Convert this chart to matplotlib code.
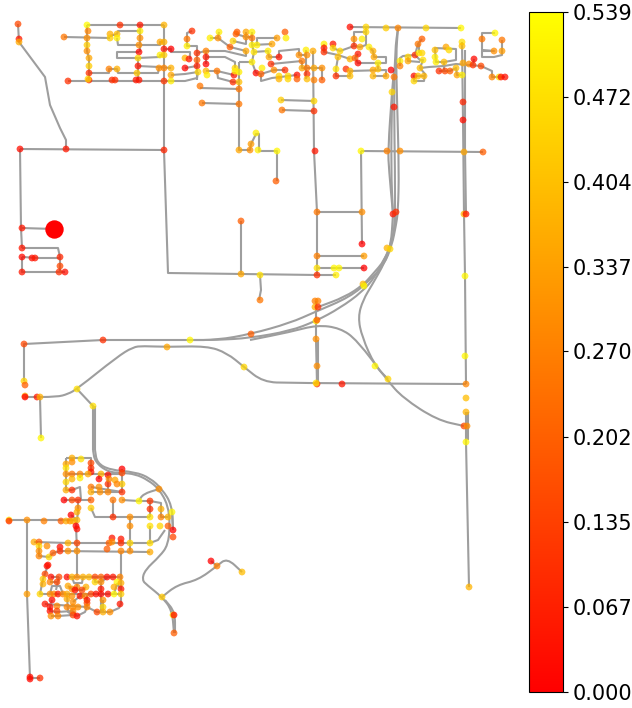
import numpy as np
import matplotlib
matplotlib.use('Agg')
from matplotlib import pyplot as plt
from matplotlib.collections import LineCollection, PathCollection
from matplotlib.path import Path

# road network: (x, y, value) for the nodes
nodes_far_left = [(18,24,.15),(19,39,.05),(19,42,.36),(20,149,.03),(66,149,.05),(22,228,.05),(22,248,.05),(22,257,.02),
    (32,258,.03),(35,258,.05),(60,257,.08),(60,266,.15),(22,272,.05),(59,272,.1),(65,272,.03)]
nodes_top_a = [(87,25,.53),(120,25,.1),(140,25,.05),(164,25,.38),(88,31,.28),(64,37,.25),(87,38,.3),(87,45,.43),(87,51,.3),
    (110,34,.37),(110,38,.43),(117,34,.4),(117,38,.5),(140,31,.5),(140,38,.3),(139,45,.3),(139,52,.02),(160,42,.35),
    (164,42,.37),(164,49,.05),(171,49,0),(160,55,.5),(164,55,.43),(138,58,.45),(89,58,.35),(89,66,.43),(89,73,.1),
    (109,69,.27),(117,69,.37),(138,66,.05),(137,73,.42),(159,68,.3),(164,68,.28),(171,68,.37),(171,75,.35),(171,81,.5),
    (68,81,.1),(89,80,.1),(88,79,.45),(112,80,.1),(115,80,.1),(136,80,.05),(139,80,.05),(164,81,.12),(164,150,.08)]
nodes_top_b = [(185,58,.38),(189,59,.05),(197,53,.1),(197,60,.2),(185,68,.01),(197,66,.07),(198,72,.45),(192,31,.1),
    (187,39,.25),(187,46,.5),(206,51,.27),(206,57,.05),(206,64,0),(206,71,.38),(207,75,.5),(217,71,.25),(234,75,.05),
    (235,68,.45),(233,82,.1),(239,82,.4),(239,72,.5),(235,71,.5),(200,86,.25),(239,89,.25),(202,103,.25),(239,104,.25),
    (239,150,.35),(250,150,.3),(251,144,.33),(256,133,.5),(258,150,.5),(210,38,.5),(219,32,.5),(218,38,.3),(230,47,.2),
    (233,41,.44),(236,34,.2),(237,32,.2),(246,32,.35),(252,32,.5),(246,37,.3),(252,38,.25),(252,45,.5),(246,51,.35),
    (254,52,.48),(252,62,.5),(256,73,.02)]
nodes_top_c = [(285,32,.2),(286,38,.5),(277,38,.33),(272,44,.35),(257,45,.5),(268,51,.5),(269,57,.35),(279,57,.05),
    (299,55,.3),(306,50,.5),(307,55,.3),(313,51,.36),(302,61,.25),(271,64,.1),(262,68,.5),(274,70,.3),(285,70,.1),
    (261,74,.2),(279,76,.45),(279,79,.38),(288,76,.45),(288,79,.45),(297,75,.03),(297,79,.2),(302,68,.35),(307,68,.25),
    (307,74,.1),(307,79,.4),(314,68,.35),(322,68,.3),(314,80,.27),(322,80,.2),(281,100,.43),(314,101,.45),(282,110,.25),
    (314,111,.1),(277,151,.52),(315,151,.05),(276,181,.2)]
nodes_top_d = [(350,27,.03),(366,27,.45),(366,32,.45),(386,28,.43),(398,28,.28),(426,28,.45),(461,28,.52),(354,39,.3),
    (362,39,.5),(354,46,.1),(360,47,.35),(369,47,.5),(373,51,.37),(324,44,.5),(333,44,.05),(324,48,.05),(324,52,.1),
    (333,48,.45),(340,51,.45),(358,54,.05),(338,57,.4),(350,59,.38),(355,58,.2),(358,63,.02),(374,57,.35),(378,63,.5),
    (378,69,.4),(346,69,.1),(336,69,.47),(336,76,.1),(350,71,.37),(350,76,.4),(373,70,.35),(373,76,.38),(386,76,.35),
    (391,70,0),(394,77,.25),(392,92,.45),(394,107,.05),(387,151,.27),(400,151,.3),(361,151,.52),(464,152,.35),(483,152,.2)]
nodes_top_e = [(463,120,.03),(463,102,.08),(422,39,.2),(418,44,.25),(415,55,.1),(419,53,.5),(422,53,.45),(408,57,.45),
    (400,61,.5),(400,66,.27),(408,61,.35),(423,60,.47),(420,68,.4),(435,50,.4),(435,57,.5),(436,62,.5),(446,47,.35),
    (449,50,.46),(444,62,.4),(439,71,.1),(445,71,.15),(450,71,.2),(456,68,.4),(457,75,.35),(462,75,.5),(462,42,.47),
    (462,46,.4),(463,63,.35),(469,64,.3),(473,65,.1),(474,59,.02),(481,66,.15),(482,39,.25),(495,33,.52),(502,40,.25),
    (502,51,.33),(494,51,.3),(492,77,.28),(499,77,.47),(501,77,.05),(505,77,.03),(414,76,.03),(418,76,.4),(424,76,.38),
    (414,81,.45)]
nodes_middle = [(241,221,.2),(241,274,.35),(260,275,.47),(260,300,.25),(317,212,.25),(362,212,.3),(362,244,0),(317,256,.27),
    (364,256,.33),(317,268,.47),(334,268,.52),(339,268,.52),(364,268,0),(317,275,.1),(336,275,.5),(363,284,.38),
    (364,286,.52),(387,248,.38),(390,249,.45),(393,214,.05),(396,212,.1),(464,214,.38),(466,214,.05),(465,276,.52),
    (315,301,.27),(318,301,.27),(315,307,.37),(318,307,.1),(316,321,.5),(317,320,.2),(316,339,.3),(317,366,.3),
    (317,384,.12),(316,383,.47),(342,384,.05),(375,366,.52),(388,379,.45),(465,356,.52),(466,384,.28),(466,398,.4),
    (466,412,.38),(464,426,.15),(467,426,.3),(466,442,.52),(469,587,.38)]
nodes_west = [(24,344,.15),(103,340,.1),(190,340,.52),(251,334,.2),(167,347,.35),(244,367,.45),(24,381,.45),(25,385,.2),
    (25,396,.36),(25,397,0),(37,397,.05),(40,397,.37),(77,389,.47),(93,406,.47),(41,438,.52)]
nodes_south_a = [(72,458,.37),(81,459,.47),(66,464,.35),(66,468,.47),(72,462,.3),(91,463,.15),(91,468,.1),(91,472,.05),
    (66,474,.3),(72,474,.25),(80,474,.28),(88,474,.36),(101,474,.38),(108,475,.03),(66,482,.45),(72,479,.38),(80,478,.5),
    (99,479,0),(91,487,.25),(99,487,.3),(108,484,.1),(109,479,.28),(115,480,.35),(122,484,.43),(117,484,.28),(122,469,0),
    (122,473,.15),(66,490,.36),(72,490,.1),(91,492,.36),(100,492,.3),(108,492,.28),(122,492,.1),(159,489,.3)]
nodes_south_b = [(64,500,0),(72,500,.15),(78,500,.1),(91,500,.2),(113,500,.25),(122,500,.3),(139,501,.52),(150,501,.12),
    (150,509,.1),(161,509,.37),(78,508,.3),(77,512,.37),(91,508,.43),(71,515,0),(113,517,.1),(130,517,.3),(150,517,.47),
    (161,517,.28),(168,517,.38),(172,512,.52),(9,520,.5),(9,521,.1),(27,520,.3),(44,521,.27),(61,521,.2),(66,521,.36),
    (70,521,.3),(73,521,.37),(77,520,.38),(76,526,0),(77,529,.03),(130,526,.3),(150,526,.47),(160,526,.45),(168,526,.2),
    (173,530,0),(173,537,.15)]
nodes_south_c = [(34,542,.36),(39,542,.2),(39,546,.45),(47,546,.3),(68,543,.37),(77,543,.15),(109,543,.2),(112,538,.05),
    (112,542,.3),(121,539,.05),(121,543,.1),(130,543,.45),(150,543,.46),(39,551,.3),(60,547,.03),(60,551,.1),(68,551,.3),
    (77,551,.3),(107,549,.2),(121,551,.28),(130,551,.3),(150,552,.36),(39,556,.28),(49,557,.45),(53,553,.2),(48,565,.05),
    (162,597,.42),(173,615,.5),(174,615,.03),(174,633,.2),(217,566,.27),(211,561,0),(242,572,.4),(27,594,.33),
    (30,677,.03),(30,679,.02),(40,678,.1)]
nodes_grid = [(47,566,.03),(45,574,.15),(43,579,.42),(43,584,.37),(51,577,.03),(59,577,.15),(50,582,.27),(57,582,.15),
    (67,577,.02),(72,577,.37),(77,577,.3),(83,577,.37),(89,577,.38),(95,577,.15),(101,577,.2),(107,577,.03),(113,577,.05),
    (120,577,.28),(95,582,.45),(101,582,.3),(117,582,.52),(121,583,.37),(114,587,.36),(121,589,.05),(68,586,.35),
    (72,589,.3),(77,587,.28),(86,587,.37),(75,590,.03),(82,590,.15),(40,594,.45),(50,594,.3),(54,594,.28),(58,594,.05),
    (63,594,.28),(67,594,.36),(72,596,.3),(80,596,.05),(85,596,.28),(91,594,.15),(96,594,.03),(101,594,.02),(108,594,.03),
    (114,594,.52),(121,594,.43),(101,589,.05),(52,600,.02),(67,599,.36),(73,602,.3),(87,600,.03),(45,604,.05),(57,606,.28),
    (50,607,.03),(67,607,.28),(73,607,.3),(87,603,.15),(103,600,.3),(120,604,.05),(50,611,.03),(57,611,.15),(73,611,.28),
    (78,607,.3),(87,607,.28),(97,612,.15),(103,607,.45),(103,612,.37),(110,612,.3),(51,616,.3),(58,616,.28),(73,615,.15),
    (77,616,.03)]
big_node = (54, 229, 0.0)

# straight road polylines
roads_far_left = [[(18,24),(19,42),(45,77),(50,105),(60,128),(66,140),(66,149)],[(20,149),(164,150)],
    [(20,149),(21,228),(22,248)],[(22,228),(54,229)],[(22,248),(58,248),(60,257),(60,272)],[(22,257),(22,272),(65,272)],
    [(22,257),(40,258),(60,258)]]
roads_top_a = [[(87,25),(164,25)],[(164,25),(164,150),(168,273),(317,275)],[(87,25),(87,51),(89,58),(89,81)],[(64,37),(110,38)],
    [(110,36),(117,34),(118,31),(140,31)],[(140,25),(140,52)],[(117,38),(118,45),(160,45),(160,42),(164,42)],
    [(139,52),(117,52),(117,58),(138,58),(160,57),(160,55),(164,55)],[(138,58),(138,81)],[(138,66),(159,67),(171,68)],
    [(89,73),(109,73),(109,69),(117,69),(118,73),(158,73),(159,68)],[(68,81),(171,81),(185,81),(197,78),(198,72)],
    [(171,75),(185,74),(198,72)],[(164,49),(171,49),(171,52),(190,52),(190,59)],[(185,68),(197,66)],
    [(192,31),(187,33),(187,46),(197,46),(197,80)],[(197,53),(206,51),(225,51),(246,56),(246,51)],
    [(206,51),(206,64)],[(206,57),(225,57),(235,62),(235,68)],[(206,71),(217,71),(234,75)],[(217,71),(218,78),(233,82),(239,82)],
    [(239,62),(252,62),(256,73)],[(239,62),(239,150),(250,150),(251,144),(256,134),(259,134),(259,151),(277,151),(277,181)],
    [(200,88),(239,89)],[(202,103),(239,104)],[(210,38),(218,38),(230,47),(246,51)],[(219,32),(218,38)],
    [(233,41),(246,44),(246,32)],[(236,34),(246,37),(252,37)],[(252,32),(252,45),(254,52),(252,62)]]
roads_top_b = [[(257,45),(257,38),(277,38)],[(252,45),(272,44)],[(253,52),(268,51),(269,57),(279,57),(279,51),(299,49),(299,55),(307,55)],
    [(306,50),(306,79)],[(271,64),(302,61)],[(261,74),(274,70),(285,70)],[(256,73),(261,74),(261,81),(272,78),(297,75)],
    [(302,61),(302,68),(322,68),(322,80)],[(313,51),(314,151),(317,212),(317,275)],[(281,100),(314,101)],[(282,110),(314,111)],
    [(350,27),(461,28)],[(366,27),(366,45),(360,47),(354,46),(354,32),(366,32)],[(324,44),(324,52),(338,55),(350,59)],
    [(333,44),(333,48),(340,51),(354,46)],[(338,57),(336,69),(336,76),(350,76),(350,71),(386,70),(386,76),(373,76)],
    [(358,54),(355,58),(358,63),(378,63),(386,63),(386,57),(374,57),(373,51),(369,47)],[(378,63),(378,69)],
    [(361,151),(483,152)],[(361,151),(362,244)],[(415,55),(418,44),(422,39)],[(419,44),(419,53)],
    [(400,66),(400,58),(403,56),(415,55),(420,60),(423,60),(420,68),(429,67),(444,66),(456,64),(481,66),(492,71),(492,77),(505,77)],
    [(408,57),(408,61),(420,62)],[(420,68),(425,74),(424,81),(414,81),(414,76),(424,76)],
    [(435,50),(435,48),(456,49),(456,60),(444,62),(436,62),(435,50)],[(444,62),(444,71)],[(439,71),(450,71),(456,68),(457,75),(462,75)],
    [(473,65),(474,59)],[(495,33),(482,33),(482,50),(494,51),(482,51),(482,57),(494,57),(502,55),(502,40)]]
roads_center = [[(462,42),(463,120),(464,214),(465,276),(466,384)],[(465,50),(465,150),(466,214)],[(466,412),(466,442),(469,587)],[(468,412),(468,440)],
    [(317,212),(362,212)],[(317,256),(364,256)],[(317,268),(364,268)],[(317,275),(336,275)],
    [(241,221),(241,274)],[(260,275),(261,290),(259,300)],[(316,301),(316,340),(317,384)],[(318,340),(318,384)]]
roads_west = [[(24,381),(24,344),(103,340),(190,340)],[(77,389),(93,406),(93,450)],[(40,397),(41,438)],[(95,406),(95,450)]]
roads_south_a = [[(9,520),(77,520)],[(27,520),(27,594),(30,678),(40,678)],[(66,458),(66,490),(72,490)],[(66,458),(72,458),(91,458),(91,472)],
    [(66,474),(122,474)],[(80,474),(80,478)],[(99,479),(99,474)],[(91,487),(122,492)],[(91,492),(122,492),(122,469)],[(108,475),(108,492)],
    [(72,490),(80,487),(81,500)],[(64,500),(91,500)],[(78,500),(78,512),(77,520),(71,515)],[(91,508),(95,517),(150,517)],
    [(113,500),(113,517)],[(122,500),(139,501),(150,501),(150,517)],[(150,501),(161,503),(161,517),(168,517)],
    [(172,512),(173,530)],[(130,517),(130,551)],[(150,526),(150,543)],[(211,561),(217,566)]]
roads_south_b = [[(77,520),(76,526),(77,551),(77,577)],[(34,542),(68,543),(150,543),(158,540),(165,530)],[(39,542),(39,556),(49,557),(53,553),(60,551),(150,552)],
    [(121,551),(121,604),(119,608),(110,612),(97,612),(87,607),(45,604)],[(48,565),(43,579),(40,594),(121,594)],[(67,577),(120,577)],
    [(72,577),(74,583),(82,583),(83,577)],[(77,583),(77,590)],[(95,577),(95,582),(101,582),(108,577)],[(101,577),(101,612)],
    [(59,577),(56,590)],[(51,577),(59,577)],[(50,582),(57,582)],[(50,607),(50,611),(57,612),(73,611)],[(52,600),(50,607)],
    [(67,594),(68,612),(73,615),(58,616),(51,616)],[(87,594),(87,607),(85,612),(77,616),(73,611)],[(114,594),(117,584),(121,589)],
    [(68,586),(72,589),(75,590),(82,590),(86,587)],[(50,594),(52,586),(60,586),(63,594)],[(73,602),(80,596),(85,596)],[(103,600),(103,612)]]

# long bending roads, drawn as curves through these control points
roads_curved = [[(398,28),(395,50),(394,107),(395,170),(395,225),(392,240),(385,260),(372,275),(363,285),(345,297),(318,307)],
    [(398,28),(396,55),(397,100),(399,170),(398,212),(396,225),(392,245),(384,265),(370,280),(350,297),(315,312),(290,323),(251,334),(217,340),(190,340)],
    [(394,70),(392,92),(388,150),(389,170),(393,214)],[(396,60),(392,92),(391,170),(393,214)],
    [(396,212),(394,235),(387,255),(375,277),(362,292),(340,308),(316,321),(290,331),(250,338),(217,340),(190,340)],
    [(393,214),(391,245),(385,262),(372,285),(363,300),(358,317),(362,337),(375,366),(388,379)],
    [(250,340),(290,332),(317,325),(340,328),(357,340),(387,380),(403,398),(437,420),(464,426)],
    [(25,397),(57,397),(68,394),(77,389),(117,357),(133,347),(143,346),(167,347),(207,346),(227,353),(244,367),(263,382),(290,383),(466,384)],
    [(93,450),(95,462),(108,472),(122,473),(135,474),(148,480),(159,489),(168,505),(170,525),(168,545),(160,556),(145,570),(142,580),(147,585),(162,597),(172,610),(174,633)],
    [(95,450),(97,463),(110,470),(135,472),(150,478),(162,489),(172,505),(173,530)],
    [(162,597),(177,585),(198,580),(217,566),(227,558),(242,572)],[(165,600),(175,612),(175,633)],[(139,501),(143,494),(159,489)]]

cb_ticks = [0.0, 0.067, 0.135, 0.202, 0.270, 0.337, 0.404, 0.472, 0.539]
cb_labels = ['0.000', '0.067', '0.135', '0.202', '0.270', '0.337', '0.404', '0.472', '0.539']


def curve_path(pts):
    # quadratic segments: each inner point is a control, midpoints are on the curve
    pts = np.array(pts, dtype=float)
    verts = [pts[0], (pts[0] + pts[1]) / 2]
    codes = [Path.MOVETO, Path.LINETO]
    for i in range(1, len(pts) - 1):
        verts += [pts[i], (pts[i] + pts[i + 1]) / 2]
        codes += [Path.CURVE3, Path.CURVE3]
    verts.append(pts[-1])
    codes.append(Path.LINETO)
    return Path(verts, codes)


all_nodes = (nodes_far_left + nodes_top_a + nodes_top_b + nodes_top_c + nodes_top_d + nodes_top_e + nodes_middle
             + nodes_west + nodes_south_a + nodes_south_b + nodes_south_c + nodes_grid)
all_roads = roads_far_left + roads_top_a + roads_top_b + roads_center + roads_west + roads_south_a + roads_south_b

fig = plt.figure(figsize=(6.32, 7.08), dpi=100)
ax = fig.add_axes([0, 0, 525/632, 1])
ax.set_xlim(0, 525)
ax.set_ylim(708, 0)
ax.axis('off')

ax.add_collection(LineCollection(all_roads, colors='#9e9e9e', linewidths=1.5, zorder=1))
for r in roads_curved:
    ax.add_collection(PathCollection([curve_path(r)], facecolors='none', edgecolors='#9e9e9e', linewidths=1.5, zorder=1,
                                     transform=ax.transData))

nx, ny, nv = np.array(all_nodes).T
pts = ax.scatter(nx, ny, c=nv, s=24, cmap='autumn', vmin=0, vmax=0.539, alpha=0.75, linewidths=0, zorder=2)
ax.scatter(big_node[0], big_node[1], c=[big_node[2]], s=175, cmap='autumn', vmin=0, vmax=0.539, linewidths=0, zorder=2)

cax = fig.add_axes([529/632, 16/708, 34/632, 680/708])
cb = fig.colorbar(pts, cax=cax, ticks=cb_ticks)
cb.solids.set_alpha(1)
cb.set_ticklabels(cb_labels)
cb.ax.tick_params(labelsize=15)

fig.savefig('out.png', dpi=100)
